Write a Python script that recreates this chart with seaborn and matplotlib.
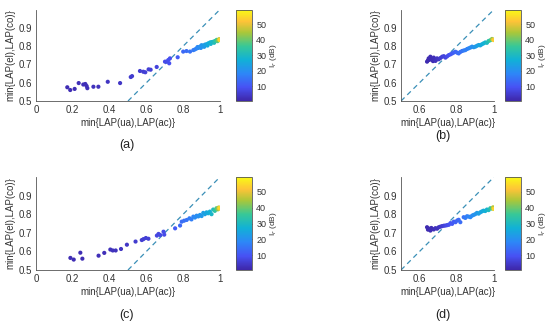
import numpy as np
import pandas as pd
import matplotlib
matplotlib.use("Agg")
import matplotlib.pyplot as plt
from matplotlib.colors import LinearSegmentedColormap, Normalize
from matplotlib.cm import ScalarMappable
from matplotlib.ticker import FuncFormatter
import seaborn as sns

# =========================
# DATA
# =========================
a_x = [0.170, 0.186, 0.210, 0.232, 0.257, 0.268, 0.275, 0.279, 0.312, 0.339,
       0.390, 0.457, 0.515, 0.522, 0.565, 0.583, 0.594, 0.612, 0.623, 0.656,
       0.701, 0.710, 0.719, 0.724, 0.728, 0.770, 0.800, 0.818, 0.837, 0.855,
       0.864, 0.873, 0.878, 0.882, 0.891, 0.896, 0.900, 0.909, 0.914, 0.918,
       0.927, 0.932, 0.936, 0.946, 0.950, 0.955, 0.964, 0.968, 0.973, 0.982,
       0.986, 0.990, 0.995, 0.998]
a_y = [0.575, 0.560, 0.566, 0.598, 0.590, 0.593, 0.582, 0.570, 0.578, 0.578,
       0.605, 0.598, 0.631, 0.636, 0.664, 0.660, 0.657, 0.673, 0.671, 0.686,
       0.715, 0.715, 0.724, 0.706, 0.733, 0.739, 0.770, 0.773, 0.770, 0.778,
       0.782, 0.787, 0.795, 0.790, 0.797, 0.790, 0.805, 0.802, 0.796, 0.808,
       0.810, 0.803, 0.815, 0.820, 0.812, 0.822, 0.824, 0.818, 0.828, 0.834,
       0.827, 0.832, 0.838, 0.833]
a_ir = [2.0, 2.0, 2.0, 2.5, 2.5, 2.5, 2.5, 2.5, 3.0, 3.0,
        3.5, 4.0, 5.0, 5.0, 5.5, 5.5, 6.0, 6.0, 6.0, 6.5,
        8.0, 8.0, 9.0, 9.0, 9.0, 11.0, 13.0, 14.0, 15.0, 16.0,
        17.0, 18.0, 18.5, 19.0, 20.0, 20.0, 21.0, 22.0, 22.0, 23.0,
        24.0, 25.0, 26.0, 27.0, 28.0, 29.0, 30.0, 31.0, 33.0, 36.0,
        38.0, 41.0, 47.0, 54.0]

b_x = [0.640, 0.645, 0.649, 0.652, 0.658, 0.662, 0.667, 0.672, 0.676, 0.680,
       0.685, 0.690, 0.694, 0.703, 0.712, 0.721, 0.730, 0.739, 0.748, 0.757,
       0.766, 0.775, 0.784, 0.793, 0.802, 0.810, 0.819, 0.828, 0.837, 0.846,
       0.855, 0.864, 0.873, 0.882, 0.891, 0.900, 0.909, 0.918, 0.926, 0.935,
       0.944, 0.953, 0.962, 0.971, 0.980, 0.989, 0.994, 0.998]
b_y = [0.715, 0.722, 0.733, 0.725, 0.742, 0.730, 0.724, 0.718, 0.737, 0.728,
       0.719, 0.726, 0.733, 0.728, 0.735, 0.742, 0.745, 0.737, 0.744, 0.751,
       0.755, 0.760, 0.765, 0.769, 0.764, 0.760, 0.768, 0.773, 0.776, 0.778,
       0.784, 0.788, 0.792, 0.797, 0.794, 0.797, 0.802, 0.806, 0.804, 0.810,
       0.815, 0.820, 0.818, 0.828, 0.832, 0.839, 0.836, 0.833]
b_ir = [1.5, 1.5, 1.5, 1.5, 2.0, 2.0, 2.0, 2.0, 2.5, 2.5,
        3.0, 3.0, 3.5, 4.0, 5.0, 6.0, 6.5, 7.0, 8.0, 9.0,
        10.0, 11.0, 12.0, 12.5, 13.0, 14.0, 14.5, 15.0, 16.0, 17.0,
        17.5, 18.0, 19.0, 20.0, 21.0, 22.0, 23.0, 24.0, 25.0, 26.0,
        27.0, 28.0, 30.0, 32.0, 36.0, 42.0, 48.0, 53.0]

c_x = [0.187, 0.205, 0.241, 0.252, 0.340, 0.371, 0.404, 0.417, 0.433, 0.462,
       0.494, 0.541, 0.575, 0.584, 0.597, 0.611, 0.657, 0.666, 0.675, 0.693,
       0.697, 0.756, 0.783, 0.792, 0.805, 0.819, 0.834, 0.845, 0.855, 0.864,
       0.873, 0.882, 0.891, 0.900, 0.909, 0.918, 0.927, 0.936, 0.945, 0.954,
       0.963, 0.972, 0.981, 0.988, 0.993, 0.996, 0.999]
c_y = [0.565, 0.556, 0.593, 0.561, 0.577, 0.592, 0.610, 0.605, 0.605, 0.613,
       0.636, 0.653, 0.661, 0.666, 0.672, 0.668, 0.685, 0.694, 0.688, 0.706,
       0.690, 0.724, 0.739, 0.760, 0.765, 0.769, 0.778, 0.772, 0.787, 0.782,
       0.792, 0.788, 0.796, 0.790, 0.807, 0.800, 0.810, 0.805, 0.814, 0.800,
       0.825, 0.818, 0.832, 0.826, 0.836, 0.830, 0.834]
c_ir = [2.0, 2.0, 2.0, 2.0, 2.5, 2.5, 3.0, 3.0, 3.0, 3.5,
        4.0, 5.0, 5.5, 5.5, 6.0, 6.0, 7.0, 7.0, 7.5, 8.0,
        8.0, 11.0, 13.0, 14.0, 14.5, 15.0, 16.0, 17.0, 18.0, 19.0,
        19.5, 20.0, 21.0, 22.0, 23.0, 24.0, 25.0, 26.0, 27.0, 29.0,
        31.0, 34.0, 38.0, 42.0, 47.0, 52.0, 55.0]

d_x = [0.640, 0.645, 0.650, 0.658, 0.663, 0.667, 0.676, 0.685, 0.694, 0.703,
       0.712, 0.721, 0.730, 0.739, 0.748, 0.757, 0.766, 0.775, 0.784, 0.793,
       0.802, 0.810, 0.819, 0.837, 0.846, 0.855, 0.864, 0.873, 0.882, 0.890,
       0.899, 0.908, 0.917, 0.926, 0.935, 0.944, 0.953, 0.962, 0.971, 0.980,
       0.989, 0.995, 0.998]
d_y = [0.730, 0.717, 0.722, 0.712, 0.726, 0.721, 0.718, 0.725, 0.722, 0.730,
       0.733, 0.736, 0.738, 0.739, 0.741, 0.743, 0.752, 0.748, 0.760, 0.757,
       0.766, 0.770, 0.757, 0.784, 0.780, 0.789, 0.787, 0.784, 0.792, 0.796,
       0.800, 0.807, 0.803, 0.810, 0.815, 0.819, 0.817, 0.825, 0.822, 0.832,
       0.830, 0.837, 0.828]
d_ir = [1.5, 1.5, 1.5, 2.0, 2.0, 2.0, 2.5, 3.0, 3.0, 3.5,
        4.0, 5.0, 6.0, 7.0, 8.0, 9.0, 10.0, 10.5, 11.0, 12.0,
        12.5, 13.0, 14.0, 15.0, 16.0, 17.0, 18.0, 18.5, 19.0, 20.0,
        21.0, 22.0, 23.0, 24.0, 25.0, 26.0, 27.0, 28.0, 30.0, 33.0,
        38.0, 46.0, 54.0]

panels = [
    ('(a)', a_x, a_y, a_ir),
    ('(b)', b_x, b_y, b_ir),
    ('(c)', c_x, c_y, c_ir),
    ('(d)', d_x, d_y, d_ir),
]

# =========================
# STYLE
# =========================
IR_MIN, IR_MAX = 0.5, 59.5
parula = LinearSegmentedColormap.from_list('parula', [
    (0.00, '#3E26A8'), (0.15, '#4752F4'), (0.30, '#2D87F7'),
    (0.45, '#11B1D6'), (0.60, '#37C897'), (0.75, '#ABC739'),
    (0.87, '#FEC338'), (1.00, '#F9FB14')])
norm = Normalize(IR_MIN, IR_MAX)

sns.set_style('white')
plt.rcParams['font.family'] = ['Liberation Sans', 'DejaVu Sans']
plt.rcParams['font.size'] = 7
TXT = '#333333'
EDGE = '#555555'

fig = plt.figure(figsize=(5.5, 3.24), dpi=100)

# axes rectangles in figure fractions
ax_rects = {
    '(a)': [36/550, 1 - 101/324, 184/550, 91.5/324],
    '(b)': [401/550, 1 - 101/324, 93/550, 91.5/324],
    '(c)': [36/550, 1 - 270/324, 184/550, 93/324],
    '(d)': [401/550, 1 - 270/324, 93/550, 93/324],
}
cb_left = {'(a)': 236/550, '(b)': 505/550, '(c)': 236/550, '(d)': 505/550}
lab_pos = {'(a)': (127/550, 1 - 145/324), '(b)': (443/550, 1 - 136/324),
           '(c)': (127/550, 1 - 315/324), '(d)': (443/550, 1 - 315/324)}

fmt = FuncFormatter(lambda v, p: f'{v:g}')

for name, xs, ys, irs in panels:
    rect = ax_rects[name]
    ax = fig.add_axes(rect)
    df = pd.DataFrame({'x': xs, 'y': ys, 'ir': irs})
    sns.scatterplot(data=df, x='x', y='y', hue='ir', palette=parula,
                    hue_norm=norm, s=9, linewidth=0, legend=False, ax=ax)
    ax.axline((0.5, 0.5), slope=1, color='#3a8fb7', lw=0.9,
              dashes=(4, 3), zorder=0)

    wide = name in ('(a)', '(c)')
    ax.set_xlim(0 if wide else 0.5, 1)
    ax.set_ylim(0.5, 1.0)
    ax.set_xticks([0, 0.2, 0.4, 0.6, 0.8, 1] if wide else [0.6, 0.8, 1])
    ax.set_yticks([0.5, 0.6, 0.7, 0.8, 0.9])
    ax.xaxis.set_major_formatter(fmt)
    ax.yaxis.set_major_formatter(fmt)
    ax.set_xlabel('min{LAP(ua),LAP(ac)}', color=TXT, fontsize=7, labelpad=2)
    ax.set_ylabel('min{LAP(el),LAP(co)}', color=TXT, fontsize=7, labelpad=2)
    for s in ('top', 'right'):
        ax.spines[s].set_visible(False)
    for s in ('left', 'bottom'):
        ax.spines[s].set_color(EDGE)
        ax.spines[s].set_linewidth(0.6)
    ax.tick_params(direction='in', length=2.5, width=0.6, colors=EDGE,
                   labelcolor=TXT, labelsize=7, pad=3)

    cax = fig.add_axes([cb_left[name], rect[1], 16/550, rect[3]])
    sm = ScalarMappable(norm=norm, cmap=parula)
    cb = fig.colorbar(sm, cax=cax)
    cb.set_ticks([10, 20, 30, 40, 50])
    cb.outline.set_linewidth(0.6)
    cb.outline.set_edgecolor(EDGE)
    cax.tick_params(direction='in', length=2.5, width=0.6, colors=EDGE,
                    labelcolor=TXT, labelsize=6.5, pad=3)
    cb.set_label('I$_r$ (dB)', color=TXT, fontsize=6, labelpad=1)

    fig.text(*lab_pos[name], name, ha='center', va='center',
             fontsize=9, color='#222222')

fig.savefig('out.png', dpi=100)
